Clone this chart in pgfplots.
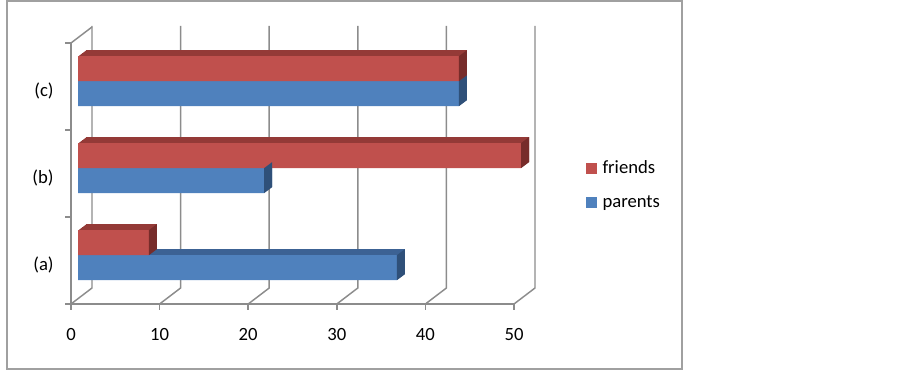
\documentclass[border=0pt]{standalone}
\usepackage{fontspec}
\setmainfont{Carlito}
\usepackage{pgfplots}
\usepackage{pgfplotstable}
\pgfplotsset{compat=1.18}
\definecolor{redF}{HTML}{C0504D}
\definecolor{redT}{HTML}{943A37}
\definecolor{redS}{HTML}{772C2A}
\definecolor{bluF}{HTML}{4F81BD}
\definecolor{bluT}{HTML}{3C6294}
\definecolor{bluS}{HTML}{2F5079}
\definecolor{gridc}{HTML}{8C8C8C}
\definecolor{framec}{HTML}{A0A0A0}
\pgfdeclareplotmark{sideface}{%
  \pgfpathmoveto{\pgfqpoint{0pt}{-9.375pt}}%
  \pgfpathlineto{\pgfqpoint{0pt}{9.375pt}}%
  \pgfpathlineto{\pgfqpoint{6pt}{13.875pt}}%
  \pgfpathlineto{\pgfqpoint{6pt}{-4.875pt}}%
  \pgfpathclose\pgfusepathqfill}
\pgfplotstableread{
cat parents friends
0 36 8
1 21 50
2 43 43
}\datatable
\begin{document}
\begin{tikzpicture}
\useasboundingbox (0,0) rectangle (677.25pt,278.25pt);
\draw[framec, line width=1.1pt] (5.25pt,1.5pt) rectangle (511.5pt,277.5pt);
\begin{axis}[
  at={(53.25pt,50.25pt)}, anchor=south west,
  scale only axis, width=332.25pt, height=195.75pt,
  xmin=0, xmax=50, ymin=-0.5, ymax=2.5,
  clip=false,
  axis x line*=bottom, axis y line*=left,
  axis line style={gridc, line width=1.1pt, -},
  xtick={0,10,...,50},
  ytick={-0.5,0.5,1.5,2.5}, yticklabels={(a),(b),(c),{}},
  yticklabel style={yshift=29.5pt, xshift=-5pt},
  xticklabel style={yshift=-10pt},
  tick align=outside, major tick length=4.5pt,
  tick style={gridc, line width=1.1pt},
  xtick pos=bottom, ytick pos=left,
  tick label style={font=\fontsize{14}{17}\selectfont},
  /pgf/number format/assume math mode=true,
  legend style={draw=none, fill=none, inner sep=0pt, anchor=west,
    at={(1.161,0.456)}, row sep=10.5pt,
    font=\fontsize{14}{17}\selectfont, nodes={inner sep=2pt}},
  legend cell align=left,
]
\pgfplotsinvokeforeach{0,10,20,30,40,50}{
  \draw[gridc, line width=1.1pt] (axis cs:#1,-0.5) -- ++(15.75pt,12pt) -- ++(0pt,196.5pt);
}
\draw[gridc, line width=1.1pt] (axis cs:0,2.5) -- ++(15.75pt,12pt);
% parents
\pgfplotsinvokeforeach{1,2,3,4,5,6,7,8}{
  \addplot[xbar, bar width=18.75pt, bar shift=-9.375pt, draw=none, fill=bluT,
    xshift={5.25pt+#1*0.75pt}, yshift={4pt+#1*0.5625pt}, forget plot]
    table[x=parents,y=cat]{\datatable};
}
\addplot[xbar, bar width=18.75pt, bar shift=-9.375pt, draw=none, fill=bluF,
  xshift=5.25pt, yshift=4pt, forget plot] table[x=parents,y=cat]{\datatable};
\addplot[only marks, mark=sideface, mark options={fill=bluS, draw=none},
  xshift=5.25pt, yshift={4pt-9.375pt}, forget plot] table[x=parents,y=cat]{\datatable};
% friends
\pgfplotsinvokeforeach{1,2,3,4,5,6,7,8}{
  \addplot[xbar, bar width=18.75pt, bar shift=9.375pt, draw=none, fill=redT,
    xshift={5.25pt+#1*0.75pt}, yshift={4pt+#1*0.5625pt}, forget plot]
    table[x=friends,y=cat]{\datatable};
}
\addplot[xbar, bar width=18.75pt, bar shift=9.375pt, draw=none, fill=redF,
  xshift=5.25pt, yshift=4pt, forget plot] table[x=friends,y=cat]{\datatable};
\addplot[only marks, mark=sideface, mark options={fill=redS, draw=none},
  xshift=5.25pt, yshift={4pt+9.375pt}, forget plot] table[x=friends,y=cat]{\datatable};
\addlegendimage{legend image code/.code={\fill[redF] (0pt,-3.75pt) rectangle (7.5pt,3.75pt); \path[draw=none,fill=none] (0pt,0pt) -- (10.5pt,0pt);}}
\addlegendentry{friends}
\addlegendimage{legend image code/.code={\fill[bluF] (0pt,-3.75pt) rectangle (7.5pt,3.75pt); \path[draw=none,fill=none] (0pt,0pt) -- (10.5pt,0pt);}}
\addlegendentry{parents}
\end{axis}
\end{tikzpicture}
\end{document}
